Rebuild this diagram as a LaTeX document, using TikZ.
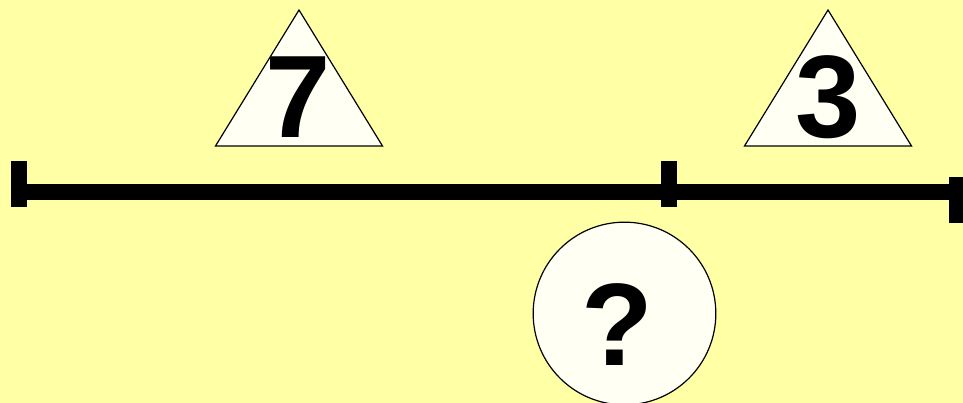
\documentclass[tikz,border=0pt]{standalone}
\usepackage{fontspec}
\setmainfont{Liberation Sans}
\usepackage{xcolor}
\usepackage{tikz}
\usetikzlibrary{positioning}
\definecolor{padyellow}{HTML}{FFFFA6}
\definecolor{padivory}{HTML}{FFFFF4}
\tikzset{
  tick/.style={rectangle,fill=black,inner sep=0pt,minimum width=12pt,minimum height=34.5pt},
  bar/.style={line width=12pt,draw=black},
  tri/.style={draw=black,fill=padivory,line width=0.9pt,line join=miter},
  disc/.style={circle,draw=black,fill=padivory,line width=0.9pt,minimum size=137pt,inner sep=0pt},
  num/.style={font=\fontsize{88}{88}\bfseries\selectfont,inner sep=0pt,anchor=base}
}

\begin{document}
\begin{tikzpicture}[x=0.75pt,y=-0.75pt]
\useasboundingbox (0,0) rectangle (963,403);
\fill[padyellow] (0,0) rectangle (963,403);
% the two parts
\draw[tri] (299,10) -- (382.5,146) -- (215.5,146) -- cycle;
\node[num] (seven) at (298,137) {7};
\draw[tri] (828,10) -- (911.5,146) -- (744.5,146) -- cycle;
\node[num] (three) at (828,137) {3};
% the bar
\coordinate (barl) at (19,191.5);
\coordinate (barr) at (957,191.5);
\draw[bar] (barl) -- (barr);
\node[tick] (tl) at (19,184) {};
\node[tick] (tm) at (669,184) {};
\node[tick] (tr) at (957,199.5) {};
% the whole
\node[disc] (whole) at (624.5,313.5) {};
\node[num] (ask) at (617,365) {?};
\end{tikzpicture}
\end{document}
